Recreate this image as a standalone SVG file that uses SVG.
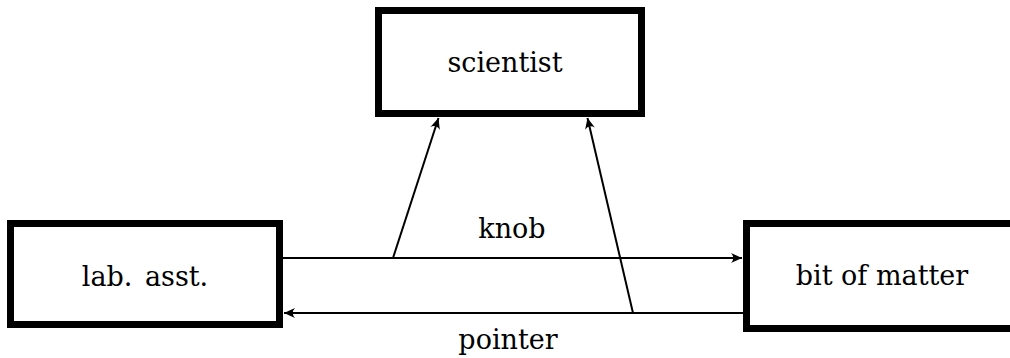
<svg xmlns="http://www.w3.org/2000/svg" width="1010" height="358" viewBox="0 0 1010 358">
  <style>
    .box { fill: #fff; stroke: #000; stroke-width: 7; }
    .label { font-family: 'DejaVu Serif', 'Liberation Serif', serif; font-size: 27px; fill: #000; text-anchor: middle; }
    .wire { fill: none; stroke: #000; stroke-width: 2; }
  </style>
  <defs>
    <marker id="arrow" markerUnits="userSpaceOnUse" markerWidth="14" markerHeight="12" viewBox="-12 -6 14 12" refX="0" refY="0" orient="auto">
      <path d="M0,0 L-11,-5 Q-6.5,0 -11,5 Z" fill="#000"/>
    </marker>
  </defs>
  <rect width="1010" height="358" fill="#fff"/>

  <g id="connectors">
    <line class="wire" x1="283" y1="258" x2="742" y2="258" marker-end="url(#arrow)"/>
    <line class="wire" x1="743" y1="313" x2="284" y2="313" marker-end="url(#arrow)"/>
    <line class="wire" x1="393" y1="258" x2="438.5" y2="118" marker-end="url(#arrow)"/>
    <line class="wire" x1="633" y1="313" x2="587.5" y2="118" marker-end="url(#arrow)"/>
    <text class="label" x="512" y="238">knob</text>
    <text class="label" x="508" y="349">pointer</text>
  </g>

  <g id="scientist">
    <rect class="box" x="378.5" y="10.5" width="263" height="103"/>
    <text class="label" x="505" y="72">scientist</text>
  </g>

  <g id="lab-asst">
    <rect class="box" x="10.5" y="223.5" width="269" height="101"/>
    <text class="label" x="145" y="286" word-spacing="4">lab. asst.</text>
  </g>

  <g id="bit-of-matter">
    <!-- box runs past the right edge of the drawing -->
    <path class="box" d="M1030,223.5 H746.5 V328.5 H1030"/>
    <text class="label" x="882" y="285">bit of matter</text>
  </g>
</svg>
